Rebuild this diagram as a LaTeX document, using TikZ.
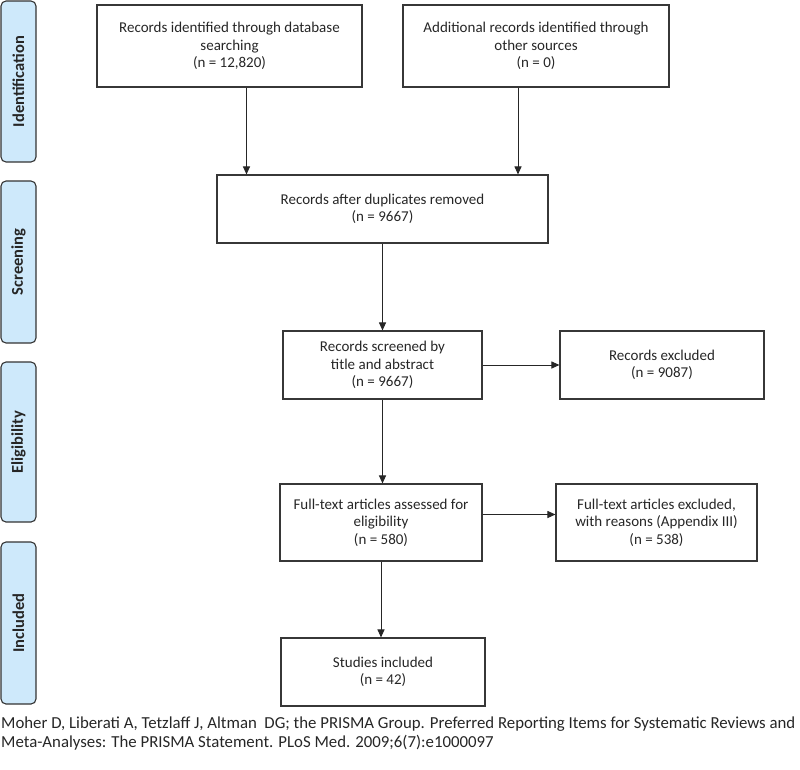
\documentclass[tikz,border=0pt]{standalone}
\usepackage{fontspec}
\setmainfont{Carlito}
\usetikzlibrary{arrows.meta}
\definecolor{sidefill}{RGB}{206,233,251}
\definecolor{edge}{RGB}{55,55,55}
\tikzset{
  box/.style={draw=edge, line width=1.1pt, rectangle, align=center, inner sep=2pt,
    font=\fontsize{15}{17.5}\selectfont, text=black!85},
  side/.style={draw=black!80, line width=1.1pt, rounded corners=5pt, fill=sidefill,
    rotate=90, minimum height=35pt, inner sep=0pt,
    font=\fontsize{16.5}{18}\selectfont\bfseries, text=black!85},
  arr/.style={draw=black!85, line width=1pt, -{Triangle[length=8pt,width=7pt]}},
  captext/.style={anchor=base west, inner sep=0pt, font=\fontsize{16.8}{20}\selectfont, text=black!85}
}
\begin{document}
\begin{tikzpicture}[x=1pt,y=-1pt]
\useasboundingbox (0,0) rectangle (800,769);
% side labels
\node[side, minimum width=161pt] (sid) at (18.5,81.5) {Identification};
\node[side, minimum width=162pt] (sscr) at (18.5,262) {Screening};
\node[side, minimum width=160pt] (selg) at (18.5,442) {Eligibility};
\node[side, minimum width=162pt] (sinc) at (18.5,623) {Included};
% boxes
\node[box, minimum width=265pt, minimum height=82pt] (b1) at (229.5,46)
  {Records identified through database\\searching\\(n = 12,820)};
\node[box, minimum width=266pt, minimum height=82pt] (b2) at (536,46)
  {Additional records identified through\\other sources\\(n = 0)};
\node[box, minimum width=331pt, minimum height=68pt] (b3) at (382.5,209)
  {Records after duplicates removed\\(n = 9667)};
\node[box, minimum width=199pt, minimum height=68pt] (b4) at (382.5,365)
  {Records screened by\\title and abstract\\(n = 9667)};
\node[box, minimum width=204pt, minimum height=68pt] (b5) at (662,365)
  {Records excluded\\(n = 9087)};
\node[box, minimum width=202pt, minimum height=77pt] (b6) at (381,522.5)
  {Full-text articles assessed for\\eligibility\\(n = 580)};
\node[box, minimum width=201pt, minimum height=77pt] (b7) at (656.5,522.5)
  {Full-text articles excluded,\\with reasons (Appendix III)\\(n = 538)};
\node[box, minimum width=204pt, minimum height=68pt] (b8) at (383,672)
  {Studies included\\(n = 42)};
% arrows
\draw[arr] ([xshift=17pt]b1.south) -- ([xshift=17pt]b1.south |- b3.north);
\draw[arr] ([xshift=-18pt]b2.south) -- ([xshift=-18pt]b2.south |- b3.north);
\draw[arr] (b3.south) -- (b3.south |- b4.north);
\draw[arr] (b4.east) -- (b4.east -| b5.west);
\draw[arr] (b4.south) -- (b4.south |- b6.north);
\draw[arr] ([yshift=8pt]b6.east) -- ([yshift=8pt]b6.east -| b7.west);
\draw[arr] (b6.south) -- (b6.south |- b8.north);
% caption
\node[captext] (cap1) at (1,728)
  {Moher D, Liberati A, Tetzlaff J, Altman~ DG; the PRISMA Group. Preferred Reporting Items for Systematic Reviews and};
\node[captext] (cap2) at (1,747.5)
  {Meta-Analyses: The PRISMA Statement. PLoS Med. 2009;6(7):e1000097};
\end{tikzpicture}
\end{document}
